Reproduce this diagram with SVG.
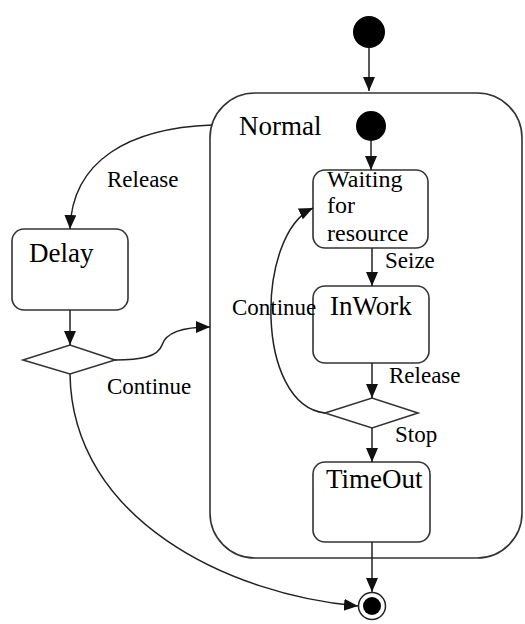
<svg xmlns="http://www.w3.org/2000/svg" width="525" height="624" viewBox="0 0 525 624">
<style>
.st{fill:#fff;stroke:#333;stroke-width:1.6}
.cn{fill:none;stroke:#222;stroke-width:1.5}
text{font-family:'Times New Roman','Liberation Serif','DejaVu Serif',serif;fill:#000}
.big{font-size:27px}
.mid{font-size:24px}
.lbl{font-size:23px}
</style>
<defs>
<marker id="ah" markerUnits="userSpaceOnUse" markerWidth="15" markerHeight="13" refX="14" refY="6" orient="auto">
<path d="M0,0 L14,6 L0,12 z" fill="#111"/>
</marker>
</defs>
<rect width="525" height="624" fill="#fff"/>
<g id="normal">
<rect class="st" x="210" y="93" width="312" height="465" rx="45" ry="45"/>
<text class="big" x="239" y="135">Normal</text>
</g>
<g id="init-outer"><circle cx="369" cy="32" r="16" fill="#000"/></g>
<g id="init-inner"><circle cx="371" cy="126" r="15" fill="#000"/></g>
<g id="delay">
<rect class="st" x="12" y="229" width="116" height="81" rx="12" ry="12"/>
<text class="big" x="29" y="262">Delay</text>
</g>
<g id="delay-choice"><polygon class="st" points="23,360 70,345 115,360 70,374"/></g>
<g id="waiting">
<rect class="st" x="313" y="170" width="115" height="78" rx="12" ry="12"/>
<text class="mid" x="327" y="187">Waiting</text>
<text class="mid" x="327" y="213">for</text>
<text class="mid" x="327" y="241">resource</text>
</g>
<g id="inwork">
<rect class="st" x="313" y="286" width="116" height="77" rx="12" ry="12"/>
<text class="big" x="330" y="315">InWork</text>
</g>
<g id="inner-choice"><polygon class="st" points="325,413 372,398 418,413 372,428"/></g>
<g id="timeout">
<rect class="st" x="313" y="462" width="117" height="80" rx="12" ry="12"/>
<text class="big" x="326" y="488">TimeOut</text>
</g>
<g id="final">
<circle cx="372" cy="606" r="13.5" fill="#fff" stroke="#222" stroke-width="1.5"/>
<circle cx="372" cy="606" r="9" fill="#000"/>
</g>
<g id="connectors">
<path class="cn" d="M369,48 L369,91" marker-end="url(#ah)"/>
<path class="cn" d="M371,141 L371,170" marker-end="url(#ah)"/>
<path class="cn" d="M372,248 L372,286" marker-end="url(#ah)"/>
<path class="cn" d="M372,363 L372,398" marker-end="url(#ah)"/>
<path class="cn" d="M372,428 L372,462" marker-end="url(#ah)"/>
<path class="cn" d="M372,542 L372,592" marker-end="url(#ah)"/>
<path class="cn" d="M325,413 C255,405 255,235 313,208" marker-end="url(#ah)"/>
<path class="cn" d="M212,125 C130,128 72,160 70,229" marker-end="url(#ah)"/>
<path class="cn" d="M70,310 L70,345" marker-end="url(#ah)"/>
<path class="cn" d="M115,360 C140,360 158,357 162,345 C166,332 185,327 210,327" marker-end="url(#ah)"/>
<path class="cn" d="M70,374 C72,520 230,595 358,606" marker-end="url(#ah)"/>
<text class="lbl" x="107" y="187">Release</text>
<text class="lbl" x="107" y="394">Continue</text>
<text class="lbl" x="385" y="268">Seize</text>
<text class="lbl" x="232" y="315">Continue</text>
<text class="lbl" x="389" y="383">Release</text>
<text class="lbl" x="395" y="442">Stop</text>
</g>
</svg>
